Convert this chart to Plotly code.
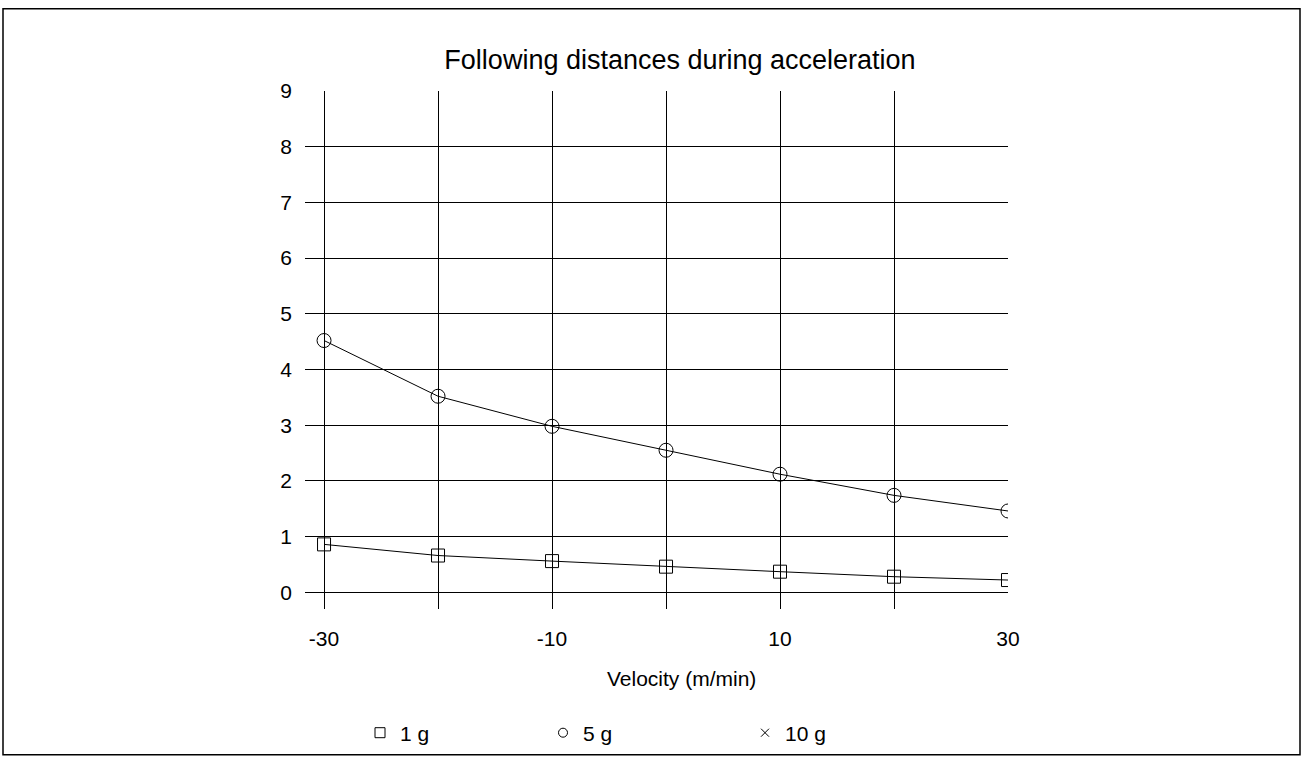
import plotly.graph_objects as go

# Velocity categories (m/min) and following distances per acceleration level
velocity = [-30, -20, -10, 0, 10, 20, 30]
dist_1g = [0.86, 0.66, 0.56, 0.46, 0.37, 0.28, 0.22]
dist_5g = [4.52, 3.52, 2.98, 2.55, 2.12, 1.74, 1.46]

x_tick_vals = [-30, -20, -10, 0, 10, 20, 30]
x_tick_text = ["-30", "", "-10", "", "10", "", "30"]
y_tick_vals = [0, 1, 2, 3, 4, 5, 6, 7, 8, 9]

FONT = "Liberation Sans, Arial, sans-serif"
TXT = dict(family=FONT, size=21, color="black")

fig = go.Figure()

# data lines (legend shows markers only, via separate proxy entries)
fig.add_trace(go.Scatter(
    x=velocity, y=dist_1g, mode="lines+markers", showlegend=False,
    line=dict(color="black", width=1),
    marker=dict(symbol="square-open", size=13, color="black", line=dict(width=1)),
))
fig.add_trace(go.Scatter(
    x=velocity, y=dist_5g, mode="lines+markers", showlegend=False,
    line=dict(color="black", width=1),
    marker=dict(symbol="circle-open", size=14, color="black", line=dict(width=1)),
))

# legend entries
legend_items = [
    ("1 g", "square-open", 10, "legend"),
    ("5 g", "circle-open", 9, "legend2"),
    ("10 g", "x-thin-open", 8, "legend3"),
]
for name, sym, sz, lg in legend_items:
    fig.add_trace(go.Scatter(
        x=[None], y=[None], mode="markers", name=name, legend=lg,
        marker=dict(symbol=sym, size=sz, color="black", line=dict(width=1, color="black")),
    ))

legend_style = dict(orientation="h", yanchor="middle", xanchor="left",
                    bgcolor="rgba(0,0,0,0)", font=TXT, itemsizing="trace")

fig.update_layout(
    width=1303, height=765,
    margin=dict(l=305, r=295, t=91, b=152),
    paper_bgcolor="white", plot_bgcolor="white",
    title=dict(text="Following distances during acceleration", x=(680 - 305) / 703,
               xref="paper", xanchor="center", y=1 - 60 / 765, yanchor="middle",
               font=dict(family=FONT, size=27, color="black")),
    xaxis=dict(range=[-31.67, 30], tickvals=x_tick_vals, ticktext=x_tick_text,
               showgrid=True, gridcolor="black", gridwidth=1, zeroline=False,
               showline=False, ticks="", ticklabelstandoff=15, tickfont=TXT),
    yaxis=dict(range=[-0.3, 9], tickvals=y_tick_vals,
               showgrid=True, gridcolor="black", gridwidth=1, zeroline=False,
               showline=False, ticks="", ticklabelstandoff=12, tickfont=TXT),
    legend=dict(x=(360 - 305) / 703, y=(613 - 738) / 522, **legend_style),
    legend2=dict(x=(543 - 305) / 703, y=(613 - 738) / 522, **legend_style),
    legend3=dict(x=(745 - 305) / 703, y=(613 - 738) / 522, **legend_style),
    showlegend=True,
)

# x-axis title
fig.add_annotation(text="Velocity (m/min)", xref="paper", yref="paper",
                   x=(681 - 305) / 703, y=(613 - 683) / 522,
                   xanchor="center", yanchor="middle", showarrow=False, font=TXT)

# outer frame around the whole chart
fig.add_shape(type="rect", xref="paper", yref="paper",
              x0=(3 - 305) / 703, x1=(1300 - 305) / 703,
              y0=(613 - 760) / 522, y1=(613 - 8) / 522,
              line=dict(color="black", width=1.5), fillcolor="rgba(0,0,0,0)")

fig.write_html("out.html")
